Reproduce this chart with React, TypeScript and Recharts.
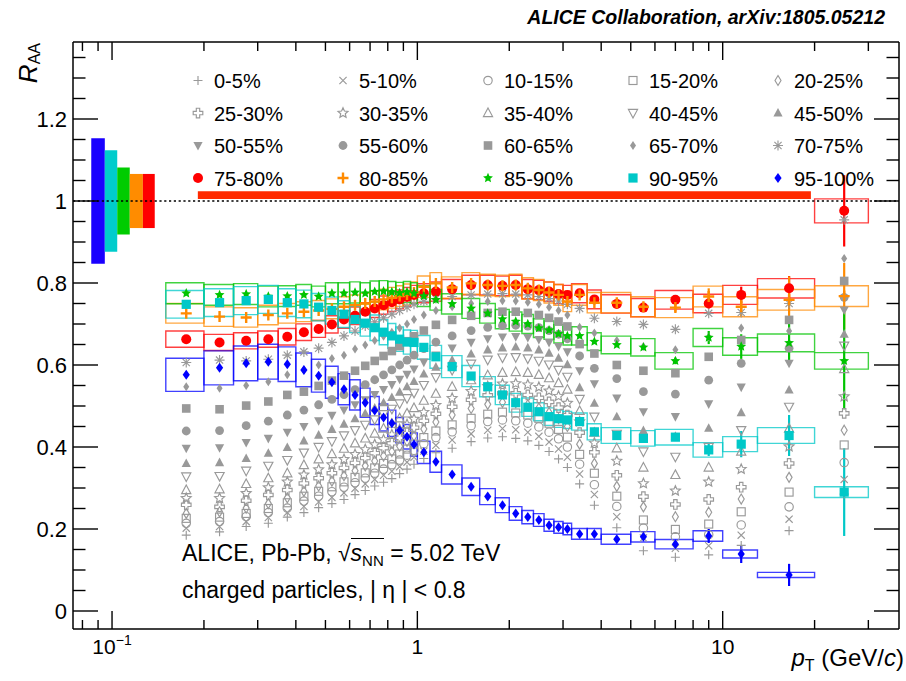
import React from "react";
import {
  ComposedChart,
  Scatter,
  XAxis,
  YAxis,
  ReferenceArea,
  ReferenceLine,
  ErrorBar,
} from "recharts";

const FONT = "'Liberation Sans', Arial, Helvetica, sans-serif";
const W = 906;
const H = 681;
const X_MIN = 0.0745;
const X_MAX = 37.8;
const Y_MIN = -0.0439;
const Y_MAX = 1.3878;

// pT bin edges (GeV/c)
const ptEdges = [
  0.15, 0.2, 0.25, 0.3, 0.35, 0.4, 0.45, 0.5, 0.55, 0.6, 0.65, 0.7, 0.75, 0.8,
  0.85, 0.9, 0.95, 1.0, 1.1, 1.2, 1.4, 1.6, 1.8, 2.0, 2.2, 2.4, 2.6, 2.8, 3.0,
  3.2, 3.6, 4.0, 5.0, 6.0, 8.0, 10, 13, 20, 30,
];

// R_AA per centrality class, one value per pT bin
const c0_5 = [0.185, 0.193, 0.206, 0.214, 0.229, 0.240, 0.252, 0.262, 0.272, 0.284, 0.294, 0.305, 0.314, 0.323, 0.335, 0.346, 0.358, 0.372, 0.386, 0.397, 0.413, 0.422, 0.425, 0.421, 0.415, 0.404, 0.389, 0.371, 0.350, 0.310, 0.258, 0.203, 0.147, 0.131, 0.137, 0.160, 0.196, 0.285];
const c5_10 = [0.202, 0.206, 0.218, 0.228, 0.240, 0.255, 0.266, 0.277, 0.288, 0.299, 0.310, 0.321, 0.331, 0.341, 0.352, 0.363, 0.375, 0.390, 0.404, 0.417, 0.432, 0.441, 0.445, 0.442, 0.436, 0.426, 0.412, 0.395, 0.375, 0.334, 0.284, 0.230, 0.178, 0.153, 0.159, 0.185, 0.224, 0.321];
const c10_15 = [0.214, 0.218, 0.230, 0.240, 0.251, 0.268, 0.280, 0.291, 0.302, 0.313, 0.324, 0.336, 0.346, 0.357, 0.368, 0.380, 0.392, 0.408, 0.423, 0.437, 0.452, 0.462, 0.466, 0.464, 0.458, 0.449, 0.436, 0.420, 0.400, 0.358, 0.308, 0.255, 0.202, 0.181, 0.186, 0.210, 0.254, 0.362];
const c15_20 = [0.226, 0.229, 0.238, 0.250, 0.264, 0.280, 0.292, 0.303, 0.315, 0.326, 0.337, 0.349, 0.360, 0.371, 0.383, 0.395, 0.407, 0.423, 0.439, 0.454, 0.470, 0.480, 0.485, 0.483, 0.478, 0.470, 0.458, 0.443, 0.424, 0.382, 0.336, 0.280, 0.222, 0.199, 0.212, 0.242, 0.290, 0.405];
const c20_25 = [0.238, 0.242, 0.251, 0.262, 0.276, 0.292, 0.305, 0.317, 0.330, 0.342, 0.354, 0.366, 0.378, 0.389, 0.402, 0.414, 0.427, 0.444, 0.461, 0.478, 0.494, 0.504, 0.509, 0.508, 0.503, 0.495, 0.484, 0.469, 0.450, 0.407, 0.360, 0.304, 0.254, 0.230, 0.241, 0.273, 0.326, 0.441];
const c25_30 = [0.259, 0.254, 0.269, 0.283, 0.295, 0.311, 0.324, 0.336, 0.349, 0.361, 0.373, 0.385, 0.397, 0.409, 0.422, 0.434, 0.447, 0.464, 0.481, 0.498, 0.515, 0.526, 0.531, 0.531, 0.527, 0.520, 0.510, 0.496, 0.478, 0.435, 0.387, 0.331, 0.279, 0.260, 0.272, 0.302, 0.360, 0.482];
const c30_35 = [0.275, 0.275, 0.287, 0.301, 0.315, 0.332, 0.345, 0.357, 0.370, 0.382, 0.394, 0.406, 0.418, 0.430, 0.443, 0.455, 0.468, 0.485, 0.502, 0.519, 0.536, 0.548, 0.554, 0.555, 0.552, 0.546, 0.537, 0.524, 0.507, 0.462, 0.410, 0.366, 0.311, 0.293, 0.315, 0.346, 0.401, 0.523];
const c35_40 = [0.295, 0.297, 0.310, 0.324, 0.336, 0.356, 0.370, 0.383, 0.396, 0.409, 0.421, 0.433, 0.445, 0.457, 0.470, 0.482, 0.495, 0.513, 0.530, 0.547, 0.563, 0.575, 0.581, 0.583, 0.581, 0.576, 0.568, 0.556, 0.540, 0.488, 0.435, 0.397, 0.350, 0.332, 0.350, 0.389, 0.445, 0.590];
const c40_45 = [0.328, 0.329, 0.342, 0.354, 0.368, 0.386, 0.400, 0.414, 0.428, 0.441, 0.454, 0.467, 0.480, 0.493, 0.506, 0.519, 0.532, 0.551, 0.570, 0.588, 0.603, 0.613, 0.618, 0.619, 0.616, 0.610, 0.601, 0.588, 0.571, 0.517, 0.474, 0.432, 0.389, 0.376, 0.400, 0.441, 0.498, 0.647];
const c45_50 = [0.360, 0.362, 0.372, 0.385, 0.399, 0.415, 0.429, 0.443, 0.456, 0.469, 0.482, 0.495, 0.508, 0.521, 0.534, 0.547, 0.560, 0.578, 0.595, 0.612, 0.627, 0.637, 0.642, 0.644, 0.642, 0.637, 0.629, 0.617, 0.601, 0.545, 0.507, 0.474, 0.440, 0.426, 0.446, 0.484, 0.539, 0.675];
const c50_55 = [0.397, 0.398, 0.411, 0.421, 0.436, 0.450, 0.464, 0.477, 0.490, 0.503, 0.515, 0.528, 0.540, 0.552, 0.565, 0.577, 0.590, 0.607, 0.624, 0.641, 0.655, 0.664, 0.668, 0.669, 0.667, 0.662, 0.655, 0.645, 0.632, 0.586, 0.554, 0.519, 0.486, 0.474, 0.505, 0.546, 0.604, 0.734];
const c55_60 = [0.439, 0.440, 0.452, 0.463, 0.478, 0.490, 0.503, 0.516, 0.528, 0.540, 0.552, 0.564, 0.576, 0.588, 0.600, 0.612, 0.624, 0.640, 0.656, 0.671, 0.684, 0.692, 0.696, 0.697, 0.695, 0.691, 0.684, 0.675, 0.664, 0.622, 0.592, 0.567, 0.535, 0.529, 0.563, 0.604, 0.641, 0.765];
const c60_65 = [0.494, 0.492, 0.501, 0.511, 0.527, 0.535, 0.549, 0.562, 0.574, 0.586, 0.598, 0.610, 0.622, 0.634, 0.646, 0.658, 0.670, 0.684, 0.698, 0.710, 0.720, 0.727, 0.730, 0.730, 0.727, 0.722, 0.715, 0.706, 0.694, 0.651, 0.628, 0.600, 0.586, 0.580, 0.620, 0.661, 0.710, 0.805];
const c65_70 = [0.547, 0.543, 0.550, 0.559, 0.576, 0.588, 0.600, 0.616, 0.624, 0.639, 0.649, 0.660, 0.670, 0.680, 0.690, 0.700, 0.711, 0.722, 0.733, 0.742, 0.750, 0.755, 0.757, 0.756, 0.753, 0.748, 0.741, 0.733, 0.722, 0.692, 0.678, 0.660, 0.645, 0.637, 0.668, 0.690, 0.683, 0.860];
const c70_75 = [0.606, 0.612, 0.610, 0.614, 0.624, 0.632, 0.641, 0.655, 0.671, 0.683, 0.695, 0.705, 0.715, 0.724, 0.733, 0.741, 0.748, 0.755, 0.762, 0.767, 0.771, 0.773, 0.774, 0.773, 0.771, 0.767, 0.762, 0.756, 0.748, 0.738, 0.714, 0.706, 0.699, 0.687, 0.726, 0.728, 0.750, 0.954];
const c75_80 = [0.663, 0.655, 0.659, 0.663, 0.669, 0.680, 0.688, 0.699, 0.711, 0.720, 0.730, 0.738, 0.746, 0.753, 0.760, 0.766, 0.771, 0.775, 0.779, 0.785, 0.795, 0.795, 0.793, 0.795, 0.785, 0.783, 0.779, 0.773, 0.771, 0.775, 0.760, 0.749, 0.740, 0.759, 0.750, 0.771, 0.787, 0.976];
const c80_85 = [0.726, 0.718, 0.716, 0.722, 0.726, 0.730, 0.733, 0.737, 0.742, 0.746, 0.750, 0.755, 0.760, 0.764, 0.768, 0.772, 0.777, 0.791, 0.799, 0.789, 0.799, 0.795, 0.793, 0.795, 0.787, 0.783, 0.777, 0.771, 0.755, 0.771, 0.752, 0.752, 0.742, 0.740, 0.767, 0.742, 0.759, 0.768];
const c85_90 = [0.775, 0.771, 0.773, 0.767, 0.768, 0.771, 0.767, 0.775, 0.775, 0.777, 0.775, 0.779, 0.780, 0.778, 0.776, 0.778, 0.775, 0.768, 0.759, 0.749, 0.738, 0.726, 0.712, 0.706, 0.700, 0.690, 0.685, 0.676, 0.671, 0.671, 0.657, 0.649, 0.643, 0.610, 0.667, 0.645, 0.654, 0.610];
const c90_95 = [0.748, 0.752, 0.757, 0.760, 0.752, 0.749, 0.741, 0.733, 0.724, 0.711, 0.702, 0.691, 0.680, 0.671, 0.663, 0.656, 0.655, 0.643, 0.620, 0.596, 0.573, 0.547, 0.527, 0.508, 0.497, 0.486, 0.474, 0.469, 0.466, 0.462, 0.437, 0.428, 0.421, 0.424, 0.393, 0.407, 0.428, 0.290];
const c95_100 = [0.576, 0.593, 0.604, 0.608, 0.602, 0.588, 0.574, 0.558, 0.541, 0.527, 0.508, 0.489, 0.472, 0.458, 0.441, 0.425, 0.406, 0.387, 0.364, 0.333, 0.303, 0.279, 0.258, 0.238, 0.229, 0.222, 0.209, 0.204, 0.200, 0.188, 0.188, 0.175, 0.181, 0.163, 0.183, 0.139, 0.088, null];

// statistical errors of the peripheral classes for the last pT bins (from bin index 32)
const STAT_FROM = 32;
const stat75_80 = [0.006, 0.01, 0.012, 0.02, 0.03, 0.087];
const stat80_85 = [0.006, 0.01, 0.02, 0.024, 0.057, 0.081];
const stat85_90 = [0.006, 0.008, 0.016, 0.03, 0.049, 0.118];
const stat90_95 = [0.006, 0.008, 0.015, 0.032, 0.05, 0.107];
const stat95_100 = [0.005, 0.007, 0.017, 0.022, 0.027, 0];

// relative systematic uncertainties of the peripheral classes
const sys75_100 = [0.03, 0.033, 0.033, 0.045, 0.07];

// normalisation uncertainties drawn at the left (95-100, 90-95, 85-90, 80-85, 75-80)
const normEdges = [0.0855, 0.0947, 0.104, 0.1143, 0.1262, 0.138];
const normUnc = [0.153, 0.124, 0.082, 0.066, 0.066];
const globalBand = { x1: 0.191, x2: 19.45, y1: 1.005, y2: 1.024 };

const centLabels = [
  "0-5%", "5-10%", "10-15%", "15-20%", "20-25%",
  "25-30%", "30-35%", "35-40%", "40-45%", "45-50%",
  "50-55%", "55-60%", "60-65%", "65-70%", "70-75%",
  "75-80%", "80-85%", "85-90%", "90-95%", "95-100%",
];
const centValues = [
  c0_5, c5_10, c10_15, c15_20, c20_25, c25_30, c30_35, c35_40, c40_45, c45_50,
  c50_55, c55_60, c60_65, c65_70, c70_75, c75_80, c80_85, c85_90, c90_95, c95_100,
];
const statValues = [stat75_80, stat80_85, stat85_90, stat90_95, stat95_100];

const xTicks = [0.08, 0.09, 0.1, 0.2, 0.3, 0.4, 0.5, 0.6, 0.7, 0.8, 0.9, 1, 2, 3, 4, 5, 6, 7, 8, 9, 10, 20, 30];
const yMinorTicks = Array.from({ length: 28 }, (_, i) => Math.round(i * 5) / 100);

const GRAY = "#999999";
const periphColors = ["#ff0000", "#ff8a00", "#00c400", "#00c8c8", "#0000ff"];
const normColors = ["#1a00ff", "#00cccc", "#00cc00", "#ff8c00", "#ff0000"];
const markerKinds = [
  "plus", "x", "circleOpen", "squareOpen", "diamondOpen",
  "crossOpen", "starOpen", "triUpOpen", "triDownOpen", "triUp",
  "triDown", "circle", "square", "diamond", "asterisk",
  "circleBig", "plusThick", "starFilled", "squareBig", "diamondBig",
];

const ptCenters = ptEdges.slice(0, -1).map((lo, i) => (lo + ptEdges[i + 1]) / 2);

function starPath(cx: number, cy: number, R: number, r: number) {
  let d = "";
  for (let k = 0; k < 10; k++) {
    const a = -Math.PI / 2 + (k * Math.PI) / 5;
    const rr = k % 2 === 0 ? R : r;
    d += (k === 0 ? "M" : "L") + (cx + rr * Math.cos(a)).toFixed(2) + "," + (cy + rr * Math.sin(a)).toFixed(2);
  }
  return d + "Z";
}

function Marker({ cx, cy, kind, color }: { cx: number; cy: number; kind: string; color: string }) {
  if (cx == null || cy == null || isNaN(cx) || isNaN(cy)) return null;
  const open = { fill: "none", stroke: color, strokeWidth: 1.15 };
  switch (kind) {
    case "plus":
      return <path d={`M${cx - 4.5},${cy}H${cx + 4.5}M${cx},${cy - 4.5}V${cy + 4.5}`} {...open} />;
    case "x":
      return <path d={`M${cx - 3.6},${cy - 3.6}L${cx + 3.6},${cy + 3.6}M${cx - 3.6},${cy + 3.6}L${cx + 3.6},${cy - 3.6}`} {...open} />;
    case "circleOpen":
      return <circle cx={cx} cy={cy} r={4.2} {...open} />;
    case "squareOpen":
      return <rect x={cx - 4} y={cy - 4} width={8} height={8} {...open} />;
    case "diamondOpen":
      return <path d={`M${cx},${cy - 5}L${cx + 3},${cy}L${cx},${cy + 5}L${cx - 3},${cy}Z`} {...open} />;
    case "crossOpen": {
      const a = 1.7;
      const L = 4.8;
      return (
        <path
          d={`M${cx - a},${cy - L}H${cx + a}V${cy - a}H${cx + L}V${cy + a}H${cx + a}V${cy + L}H${cx - a}V${cy + a}H${cx - L}V${cy - a}H${cx - a}Z`}
          {...open}
        />
      );
    }
    case "starOpen":
      return <path d={starPath(cx, cy, 5.2, 2.4)} {...open} />;
    case "triUpOpen":
      return <path d={`M${cx},${cy - 5}L${cx + 4.6},${cy + 3.6}L${cx - 4.6},${cy + 3.6}Z`} {...open} />;
    case "triDownOpen":
      return <path d={`M${cx},${cy + 5}L${cx + 4.6},${cy - 3.6}L${cx - 4.6},${cy - 3.6}Z`} {...open} />;
    case "triUp":
      return <path d={`M${cx},${cy - 5}L${cx + 4.6},${cy + 3.6}L${cx - 4.6},${cy + 3.6}Z`} fill={color} />;
    case "triDown":
      return <path d={`M${cx},${cy + 5}L${cx + 4.6},${cy - 3.6}L${cx - 4.6},${cy - 3.6}Z`} fill={color} />;
    case "circle":
      return <circle cx={cx} cy={cy} r={4.4} fill={color} />;
    case "square":
      return <rect x={cx - 4.3} y={cy - 4.3} width={8.6} height={8.6} fill={color} />;
    case "diamond":
      return <path d={`M${cx},${cy - 4.5}L${cx + 3},${cy}L${cx},${cy + 4.5}L${cx - 3},${cy}Z`} fill={color} />;
    case "asterisk":
      return (
        <path
          d={`M${cx - 5},${cy}H${cx + 5}M${cx},${cy - 5}V${cy + 5}M${cx - 3.6},${cy - 3.6}L${cx + 3.6},${cy + 3.6}M${cx - 3.6},${cy + 3.6}L${cx + 3.6},${cy - 3.6}`}
          {...open}
        />
      );
    case "circleBig":
      return <circle cx={cx} cy={cy} r={5} fill={color} />;
    case "plusThick":
      return <path d={`M${cx - 5.5},${cy}H${cx + 5.5}M${cx},${cy - 5.5}V${cy + 5.5}`} stroke={color} strokeWidth={2.4} fill="none" />;
    case "starFilled":
      return <path d={starPath(cx, cy, 5.2, 2.4)} fill={color} />;
    case "squareBig":
      return <rect x={cx - 4.6} y={cy - 4.6} width={9.2} height={9.2} fill={color} />;
    case "diamondBig":
      return <path d={`M${cx},${cy - 5}L${cx + 3.6},${cy}L${cx},${cy + 5}L${cx - 3.6},${cy}Z`} fill={color} />;
    default:
      return null;
  }
}

function isMajorX(v: number) {
  const lg = Math.log10(v);
  return Math.abs(lg - Math.round(lg)) < 1e-6;
}
function isMajorY(v: number) {
  return Math.abs(v / 0.2 - Math.round(v / 0.2)) < 1e-6;
}

const BottomTick = (p: any) => {
  const { x, y, payload } = p;
  const v = payload.value as number;
  const major = isMajorX(v);
  return (
    <g>
      <line x1={x} x2={x} y1={y} y2={y - (major ? 18 : 9)} stroke="#000" strokeWidth={1.4} />
      {major && (
        <text x={x} y={y + 25} textAnchor="middle" fontSize={21} fill="#000" fontFamily={FONT}>
          {v < 1 ? (
            <>
              10<tspan dy={-9} fontSize={14}>−1</tspan>
            </>
          ) : (
            String(v)
          )}
        </text>
      )}
    </g>
  );
};

const TopTick = (p: any) => {
  const { x, y, payload } = p;
  const major = isMajorX(payload.value);
  return <line x1={x} x2={x} y1={y} y2={y + (major ? 18 : 9)} stroke="#000" strokeWidth={1.4} />;
};

const LeftTick = (p: any) => {
  const { x, y, payload } = p;
  const v = payload.value as number;
  const major = isMajorY(v);
  const label = v === 0 ? "0" : Math.abs(v - 1) < 1e-6 ? "1" : v.toFixed(1);
  return (
    <g>
      <line x1={x} x2={x + (major ? 25 : 12.5)} y1={y} y2={y} stroke="#000" strokeWidth={1.4} />
      {major && (
        <text x={x - 6} y={y} dy="0.36em" textAnchor="end" fontSize={22} fill="#000" fontFamily={FONT}>
          {label}
        </text>
      )}
    </g>
  );
};

const RightTick = (p: any) => {
  const { x, y, payload } = p;
  const major = isMajorY(payload.value);
  return <line x1={x} x2={x - (major ? 25 : 12.5)} y1={y} y2={y} stroke="#000" strokeWidth={1.4} />;
};

const series = centValues.map((vals, k) => {
  const periph = k >= 15 ? k - 15 : -1;
  const pts = vals
    .map((v, i) =>
      v == null
        ? null
        : {
            x: ptCenters[i],
            y: v,
            lo: ptEdges[i],
            hi: ptEdges[i + 1],
            stat: periph >= 0 && i >= STAT_FROM ? statValues[periph][i - STAT_FROM] : 0,
          }
    )
    .filter(Boolean) as { x: number; y: number; lo: number; hi: number; stat: number }[];
  return {
    label: centLabels[k],
    kind: markerKinds[k],
    color: periph >= 0 ? periphColors[periph] : GRAY,
    sys: periph >= 0 ? sys75_100[periph] : 0,
    periph,
    pts,
  };
});

function Chart() {
  const gray = series.filter((s) => s.periph < 0);
  const colored = series.filter((s) => s.periph >= 0);
  return (
    <ComposedChart width={W} height={H} margin={{ top: 41, right: 6, bottom: 12, left: 13 }}>
      <XAxis
        dataKey="x"
        type="number"
        scale="log"
        domain={[X_MIN, X_MAX]}
        allowDataOverflow
        ticks={xTicks}
        interval={0}
        tickSize={0}
        tickMargin={0}
        height={40}
        axisLine={{ stroke: "#000", strokeWidth: 1.5 }}
        tick={BottomTick}
      />
      <XAxis
        xAxisId="top"
        orientation="top"
        dataKey="x"
        type="number"
        scale="log"
        domain={[X_MIN, X_MAX]}
        allowDataOverflow
        ticks={xTicks}
        interval={0}
        tickSize={0}
        tickMargin={0}
        height={1}
        axisLine={{ stroke: "#000", strokeWidth: 1.5 }}
        tick={TopTick}
      />
      <YAxis
        dataKey="y"
        type="number"
        domain={[Y_MIN, Y_MAX]}
        allowDataOverflow
        ticks={yMinorTicks}
        interval={0}
        tickSize={0}
        tickMargin={0}
        width={60}
        axisLine={{ stroke: "#000", strokeWidth: 1.5 }}
        tick={LeftTick}
      />
      <YAxis
        yAxisId="right"
        orientation="right"
        type="number"
        domain={[Y_MIN, Y_MAX]}
        allowDataOverflow
        ticks={yMinorTicks}
        interval={0}
        tickSize={0}
        tickMargin={0}
        width={1}
        axisLine={{ stroke: "#000", strokeWidth: 1.5 }}
        tick={RightTick}
      />

      {normUnc.map((u, i) => (
        <ReferenceArea
          key={"norm" + i}
          x1={normEdges[i]}
          x2={normEdges[i + 1]}
          y1={1 - u}
          y2={1 + u}
          fill={normColors[i]}
          fillOpacity={1}
          stroke="none"
        />
      ))}
      <ReferenceArea
        x1={globalBand.x1}
        x2={globalBand.x2}
        y1={globalBand.y1}
        y2={globalBand.y2}
        fill="#ff2a00"
        fillOpacity={1}
        stroke="none"
      />
      <ReferenceLine y={1} stroke="#000" strokeWidth={1.6} strokeDasharray="2.2 2.6" />

      {colored.map((s) =>
        s.pts.map((p, i) => (
          <ReferenceArea
            key={s.label + "box" + i}
            x1={p.lo}
            x2={p.hi}
            y1={p.y * (1 - s.sys)}
            y2={p.y * (1 + s.sys)}
            fill="none"
            stroke={s.color}
            strokeOpacity={0.75}
            strokeWidth={1.4}
          />
        ))
      )}

      {gray.map((s) => (
        <Scatter
          key={s.label}
          name={s.label}
          data={s.pts}
          dataKey="y"
          isAnimationActive={false}
          shape={(props: any) => <Marker cx={props.cx} cy={props.cy} kind={s.kind} color={s.color} />}
        />
      ))}
      {colored.map((s) => (
        <Scatter
          key={s.label}
          name={s.label}
          data={s.pts}
          dataKey="y"
          isAnimationActive={false}
          shape={(props: any) => <Marker cx={props.cx} cy={props.cy} kind={s.kind} color={s.color} />}
        >
          <ErrorBar dataKey="stat" direction="y" width={0} stroke={s.color} strokeWidth={2.2} />
        </Scatter>
      ))}
    </ComposedChart>
  );
}

function Overlay() {
  return (
    <svg width={W} height={H} style={{ position: "absolute", left: 0, top: 0, pointerEvents: "none" }}>
      <text x={885} y={24} textAnchor="end" fontSize={19.5} fontWeight="bold" fontStyle="italic" fontFamily={FONT}>
        ALICE Collaboration, arXiv:1805.05212
      </text>
      <text transform="translate(37,43) rotate(-90)" textAnchor="end" fontSize={26} fontFamily={FONT}>
        <tspan fontStyle="italic">R</tspan>
        <tspan fontSize={16} dy={3}>AA</tspan>
      </text>
      <text x={904} y={666} textAnchor="end" fontSize={24} fontFamily={FONT}>
        <tspan fontStyle="italic">p</tspan>
        <tspan fontSize={16} dy={5}>T</tspan>
        <tspan dy={-5}> (GeV/</tspan>
        <tspan fontStyle="italic">c</tspan>
        <tspan>)</tspan>
      </text>
      {series.map((s, i) => {
        const col = i % 5;
        const row = Math.floor(i / 5);
        const mx = 198 + col * 145;
        const my = 80.5 + row * 32.5;
        return (
          <g key={"leg" + i}>
            <Marker cx={mx} cy={my} kind={s.kind} color={s.color} />
            <text x={mx + 16} y={my + 7.5} fontSize={20} fontFamily={FONT} fill="#000">
              {s.label}
            </text>
          </g>
        );
      })}
    </svg>
  );
}

function Caption() {
  return (
    <div
      style={{
        position: "absolute",
        left: 182,
        top: 535,
        fontFamily: FONT,
        fontSize: 23,
        lineHeight: "37px",
        color: "#000",
        whiteSpace: "nowrap",
      }}
    >
      <div>
        ALICE, Pb-Pb,{" "}
        <span>
          √
          <span style={{ borderTop: "1.4px solid #000", paddingTop: 1 }}>
            <i>s</i>
            <span style={{ fontSize: 15, verticalAlign: "-0.35em", lineHeight: 0 }}>NN</span>
          </span>
        </span>{" "}
        = 5.02 TeV
      </div>
      <div>charged particles, | η | &lt; 0.8</div>
    </div>
  );
}

export default function App() {
  return (
    <div style={{ position: "absolute", left: 0, top: 0, width: W, height: H, background: "#fff" }}>
      <Chart />
      <Overlay />
      <Caption />
    </div>
  );
}
